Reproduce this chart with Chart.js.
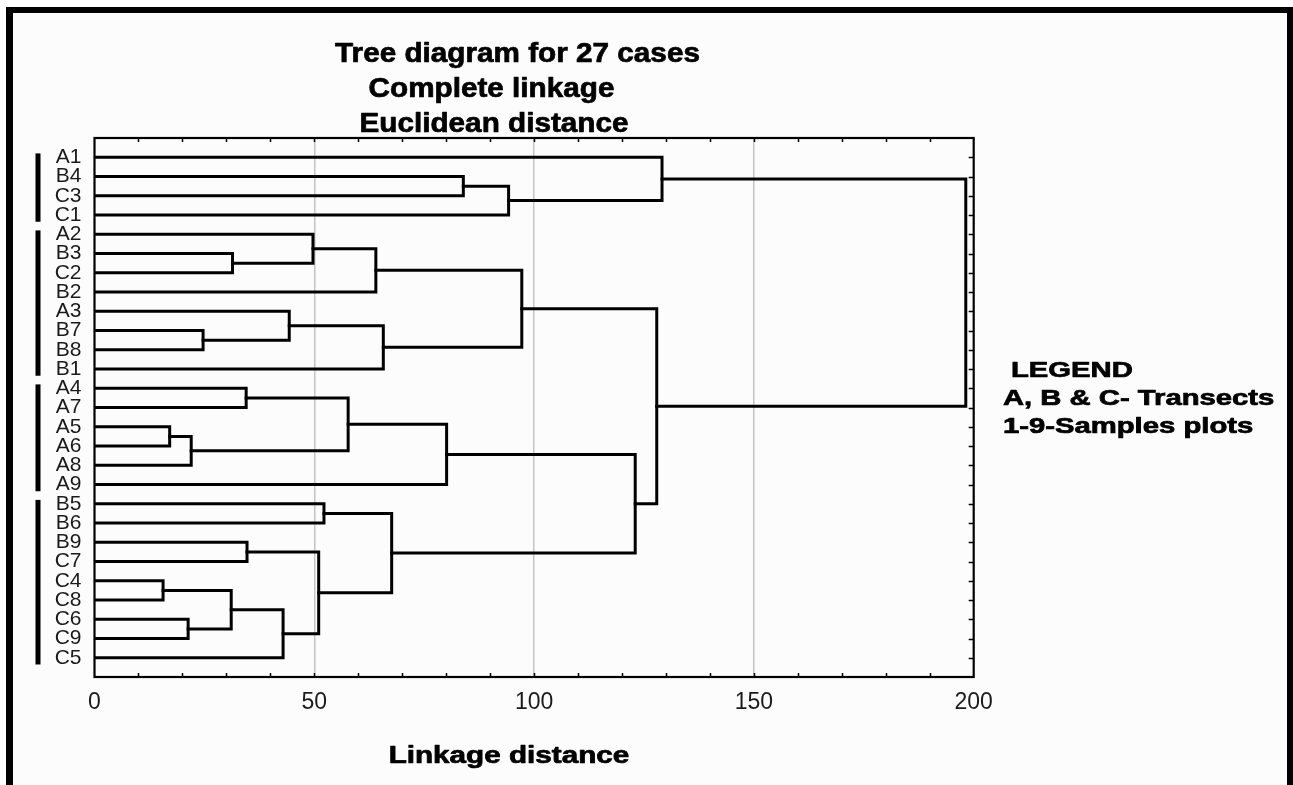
<!DOCTYPE html>
<html><head><meta charset="utf-8">
<script src="https://cdn.jsdelivr.net/npm/chart.js@4.4.1/dist/chart.umd.min.js"></script>
<style>
html,body{margin:0;padding:0;background:#fff;width:1293px;height:785px;overflow:hidden}
#frame{position:absolute;left:6px;top:7px;width:1287px;height:820px;background:#fcfcfc;border-top:6px solid #000;border-left:7px solid #000;border-right:6px solid #000;box-sizing:border-box}
#wrap{position:absolute;left:0;top:0;width:1293px;height:785px}
</style></head><body>
<div id="frame"></div>
<div id="wrap"><canvas id="c" width="1293" height="785"></canvas></div>
<script>
// ---- data ----
const leaves = ['A1','B4','C3','C1','A2','B3','C2','B2','A3','B7','B8','B1','A4','A7','A5','A6','A8','A9','B5','B6','B9','C7','C4','C8','C6','C9','C5'];
// merges: left child, right child, linkage distance (children: leaf name or 'm'+index)
const mergeA = ['B4','m0','A1','B3','A2','m4','B7','A3','m7','m5','A4','A5','m11','m10','m13','B5','B9','C4','C6','m17','m19','m16','m15','m14','m9','m2'];
const mergeB = ['C3','C1','m1','C2','m3','B2','B8','m6','B1','m8','A7','A6','A8','m12','A9','B6','C7','C8','C9','m18','C5','m20','m21','m22','m23','m24'];
const mergeHeight = [83.9,94.2,129.1,31.4,49.7,64.0,24.7,44.3,65.7,97.2,34.5,17.1,22.0,57.7,80.1,52.2,34.7,15.6,21.3,31.1,42.9,51.0,67.6,123.0,127.9,198.2];
const groupFirst = ['A1','A2','A4','B5'];
const groupLast  = ['C1','B1','A9','C5'];
const xMin = 0, xMax = 200, xStep = 10, xLabelStep = 50;
const titleLines = ['Tree diagram for 27 cases','Complete linkage','Euclidean distance'];
const axisTitle = 'Linkage distance';
const legendLines = ['LEGEND','A, B & C- Transects','1-9-Samples plots'];

// ---- build dendrogram segments ----
const nodeY = {}, nodeX = {};
leaves.forEach((l,i)=>{ nodeY[l]=i+1; nodeX[l]=0; });
const datasets = mergeHeight.map((h,k)=>{
  const a = mergeA[k], b = mergeB[k];
  const ya = nodeY[a], yb = nodeY[b];
  nodeY['m'+k] = (ya+yb)/2; nodeX['m'+k] = h;
  return {
    data:[{x:nodeX[a],y:ya},{x:h,y:ya},{x:h,y:yb},{x:nodeX[b],y:yb}],
    borderColor:'#000', borderWidth:3, pointRadius:0, tension:0,
    borderJoinStyle:'miter', borderCapStyle:'square', fill:false
  };
});

const FONT = '"Liberation Sans", Arial, sans-serif';
function stretchText(ctx, text, x, y, size, sx, align, weight){
  ctx.save();
  ctx.font = weight + ' ' + size + 'px ' + FONT;
  ctx.fillStyle = '#000'; ctx.strokeStyle = '#000'; ctx.lineWidth = 0.7; ctx.lineJoin = 'round';
  ctx.textBaseline = 'alphabetic'; ctx.textAlign = 'left';
  const w = ctx.measureText(text).width * sx;
  const left = align === 'center' ? x - w/2 : x;
  ctx.translate(left, y); ctx.scale(sx, 1);
  ctx.fillText(text, 0, 0);
  ctx.strokeText(text, 0, 0);
  ctx.restore();
}

const decor = {
  id:'decor',
  afterDatasetsDraw(chart){
    const ctx = chart.ctx, a = chart.chartArea;
    const xs = chart.scales.x, ys = chart.scales.y;
    ctx.save();
    ctx.strokeStyle = '#000';
    // inward ticks
    ctx.lineWidth = 1.5;
    ctx.beginPath();
    for (let v = xMin + xStep; v < xMax; v += xStep){
      const px = Math.round(xs.getPixelForValue(v)) + 0.5;
      ctx.moveTo(px, a.top); ctx.lineTo(px, a.top + 4);
      ctx.moveTo(px, a.bottom); ctx.lineTo(px, a.bottom - 4);
    }
    leaves.forEach((l,i)=>{
      const py = Math.round(ys.getPixelForValue(i+1)) + 0.5;
      ctx.moveTo(a.right - 5, py); ctx.lineTo(a.right, py);
    });
    ctx.stroke();
    // plot frame
    ctx.lineWidth = 2.2;
    ctx.strokeRect(a.left, a.top, a.right - a.left, a.bottom - a.top);
    // group bars
    ctx.fillStyle = '#000';
    groupFirst.forEach((g,k)=>{
      const y1 = ys.getPixelForValue(leaves.indexOf(g) + 1 - 0.2);
      const y2 = ys.getPixelForValue(leaves.indexOf(groupLast[k]) + 1 + 0.35);
      ctx.fillRect(35.5, y1, 5, y2 - y1);
    });
    ctx.restore();
    // texts
    const t = chart.options.plugins.decor;
    titleLines.forEach((s,i)=> stretchText(ctx, s, t.titleX[i], t.titleY[i], 27, 1.1, 'center', 'bold'));
    stretchText(ctx, axisTitle, t.axisX, t.axisY, 23, 1.29, 'center', 'bold');
    legendLines.forEach((s,i)=> stretchText(ctx, s, t.legendX[i], t.legendY[i], 21.5, 1.36, 'left', 'bold'));
  }
};

new Chart(document.getElementById('c'), {
  type:'line',
  data:{ datasets },
  plugins:[decor],
  options:{
    responsive:false, animation:false, devicePixelRatio:1,
    layout:{ padding:{ left:0, right:319.3, top:138, bottom:0 } },
    plugins:{
      legend:{display:false}, title:{display:false}, tooltip:{enabled:false},
      decor:{ titleX:[517.5,491.5,494], titleY:[62,97,132], axisX:509, axisY:763,
              legendX:[1011,1003,1003], legendY:[377,405,433] }
    },
    scales:{
      x:{
        type:'linear', min:xMin, max:xMax,
        afterFit(s){ s.height = 108; },
        afterBuildTicks(s){ const t=[]; for(let v=xMin; v<=xMax; v+=xStep) t.push({value:v}); s.ticks=t; },
        ticks:{ autoSkip:false, maxRotation:0, padding:12, color:'#1a1a1a',
                font:{ family:FONT, size:23 },
                callback:(v)=> (v % xLabelStep === 0 ? String(v) : '') },
        grid:{ drawTicks:false, lineWidth:1.5,
               color:(c)=> (c.tick && c.tick.value % xLabelStep === 0 && c.tick.value > xMin && c.tick.value < xMax) ? '#c4c4c4' : 'rgba(0,0,0,0)' },
        border:{ display:false }
      },
      y:{
        type:'linear', min:0, max:leaves.length + 1, reverse:true,
        afterFit(s){ s.width = 94.5; },
        afterBuildTicks(s){ s.ticks = leaves.map((l,i)=>({value:i+1})); },
        ticks:{ autoSkip:false, padding:13, color:'#1a1a1a',
                font:{ family:FONT, size:21 },
                callback:(v)=> leaves[v-1] },
        grid:{ display:false, drawTicks:false },
        border:{ display:false }
      }
    }
  }
});
</script>
</body></html>
